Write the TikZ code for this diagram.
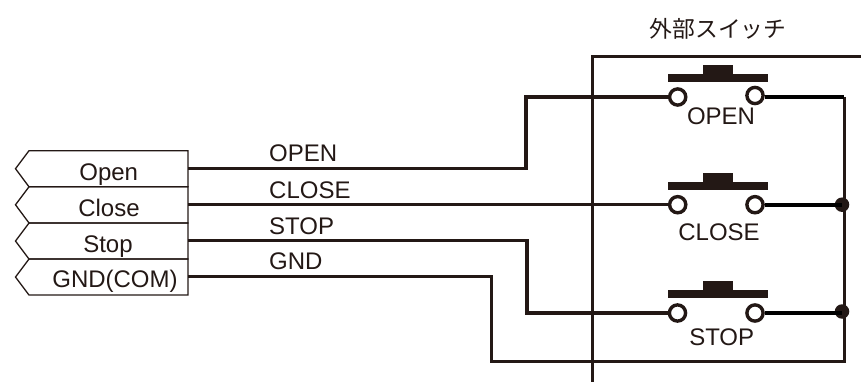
\documentclass[tikz,border=0pt]{standalone}
\usepackage{fontspec}
\setmainfont{Liberation Sans}
\newfontfamily\cjkfont{Noto Sans CJK JP}
\definecolor{ink}{HTML}{231815}
\tikzset{
  tagbox/.style={draw=ink,line width=1.3pt,line join=miter},
  wire/.style={draw=ink,line width=3.4pt,line join=miter},
  blackwire/.style={draw=black,line width=3.6pt},
  thinwire/.style={draw=ink,line width=3pt,line join=miter},
  framewire/.style={draw=ink,line width=2.6pt,line join=miter},
  contact/.style={circle,draw=ink,fill=white,line width=3.4pt,minimum size=16.2pt,inner sep=0pt},
  dotj/.style={circle,fill=ink,minimum size=14.5pt,inner sep=0pt},
  lab/.style={anchor=base,inner sep=0pt,text=ink,font=\fontsize{24}{24}\selectfont},
  wlab/.style={anchor=base west,inner sep=0pt,text=ink,font=\fontsize{24}{24}\selectfont},
  part/.style={fill=ink,draw=none}
}
\begin{document}
\begin{tikzpicture}[x=1pt,y=-1pt]
\useasboundingbox (0,0) rectangle (861,382);
% external switch frame
\coordinate (fa) at (861,56.7);
\coordinate (fb) at (592.7,56.7);
\coordinate (fc) at (592.7,382);
\draw[framewire] (fa) -- (fb) -- (fc);
\node[lab,font=\cjkfont\fontsize{22.8}{24}\selectfont] (title) at (718,38) {外部スイッチ};
% tags
\foreach \t/\m/\b in {150.7/168.7/186.8,186.8/204.8/223,223/241/259,259/277/295}{
  \draw[tagbox] (188,\t) -- (29,\t) -- (15.5,\m) -- (29,\b) -- (188,\b) -- cycle;
}
\node[lab] (tO) at (108.7,180) {Open};
\node[lab] (tC) at (109,216) {Close};
\node[lab] (tS) at (108,252) {Stop};
\node[lab] (tG) at (115,287) {GND(COM)};
\coordinate (pO) at (188,168.7);
\coordinate (pC) at (188,204.7);
\coordinate (pS) at (188,240.7);
\coordinate (pG) at (188,276.7);
% bends
\coordinate (r) at (844,97);
\coordinate (bot) at (844,361);
\coordinate (gb) at (491,361);
\node[dotj] (j2) at (842,204.7) {};
\node[dotj] (j3) at (842,311.5) {};
% right bus
\draw[thinwire] (r) -- (bot) -- (gb) -- (491,276.7) -- (pG);
% contacts and wires
\node[contact] (o1) at (677.7,97) {};
\node[contact] (o2) at (755,95.5) {};
\node[contact] (c1) at (677.7,204.7) {};
\node[contact] (c2) at (755,204.7) {};
\node[contact] (s1) at (677.5,313) {};
\node[contact] (s2) at (755,313) {};
\draw[wire] (pO) -- (526,168.7) -- (526,97) -- (o1);
\draw[wire] (pC) -- (c1);
\draw[wire] (pS) -- (527,240.7) -- (527,313) -- (s1);
\draw[blackwire] (o2.east |- r) -- (r);
\draw[blackwire] (c2) -- (c2 -| j2);
\draw[blackwire] (s2) -- (s2 -| j3);
% push buttons
\foreach \y in {0,108,216}{
  \fill[part] (667.7,74.3+\y) rectangle (768,81.7+\y);
  \fill[part] (703,65+\y) rectangle (732.7,74.5+\y);
}
% labels
\node[lab] (lo) at (721,125) {OPEN};
\node[lab] (lc) at (719,240.7) {CLOSE};
\node[lab] (ls) at (721.7,345) {STOP};
\node[wlab] (wO) at (269,162) {OPEN};
\node[wlab] (wC) at (269,198) {CLOSE};
\node[wlab] (wS) at (269,234) {STOP};
\node[wlab] (wG) at (269,269) {GND};
\end{tikzpicture}
\end{document}
